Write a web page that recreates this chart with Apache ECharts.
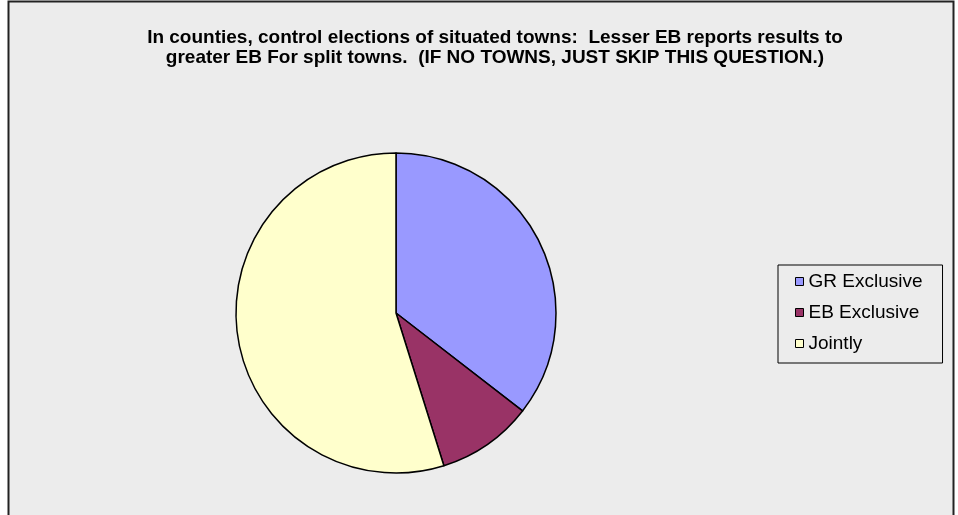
<!DOCTYPE html>
<html>
<head>
<meta charset="utf-8">
<script src="https://cdn.jsdelivr.net/npm/echarts@6/dist/echarts.min.js"></script>
<style>
html,body{margin:0;padding:0;background:#fff;}
#c{width:958px;height:515px;}
</style>
</head>
<body>
<div id="c"></div>
<script>
const titleText = "In counties, control elections of situated towns:  Lesser EB reports results to\ngreater EB For split towns.  (IF NO TOWNS, JUST SKIP THIS QUESTION.)";
const categories = ["GR Exclusive", "EB Exclusive", "Jointly"];
const values = [11, 3, 17];
const colors = ["#9999FF", "#993366", "#FFFFCC"];

const chart = echarts.init(document.getElementById('c'), null, {renderer: 'canvas'});
chart.setOption({
  animation: false,
  backgroundColor: '#ffffff',
  graphic: [{
    type: 'rect', z: -10,
    shape: {x: 8.5, y: 1.5, width: 945, height: 520},
    style: {fill: '#ececec', stroke: '#222', lineWidth: 2}
  }],
  title: {
    text: titleText,
    left: 490, top: 23, textAlign: 'center',
    textStyle: {fontFamily: 'Liberation Sans, Arial', fontWeight: 'bold', fontSize: 19, lineHeight: 20, color: '#000'}
  },
  legend: {
    orient: 'vertical',
    left: 778, top: 265,
    padding: [7, 20, 10, 17],
    itemGap: 12,
    itemWidth: 8, itemHeight: 8,
    backgroundColor: '#ececec',
    borderColor: '#000', borderWidth: 1,
    icon: 'rect',
    itemStyle: {borderColor: '#000', borderWidth: 1},
    textStyle: {fontFamily: 'Liberation Sans, Arial', fontSize: 19, color: '#000'},
    data: categories
  },
  series: [{
    type: 'pie',
    center: [396, 313],
    radius: [0, 160],
    startAngle: 90,
    clockwise: true,
    label: {show: false},
    labelLine: {show: false},
    emphasis: {disabled: true},
    itemStyle: {borderColor: '#000', borderWidth: 1.5},
    data: categories.map((n, i) => ({name: n, value: values[i], itemStyle: {color: colors[i]}}))
  }]
});
</script>
</body>
</html>
